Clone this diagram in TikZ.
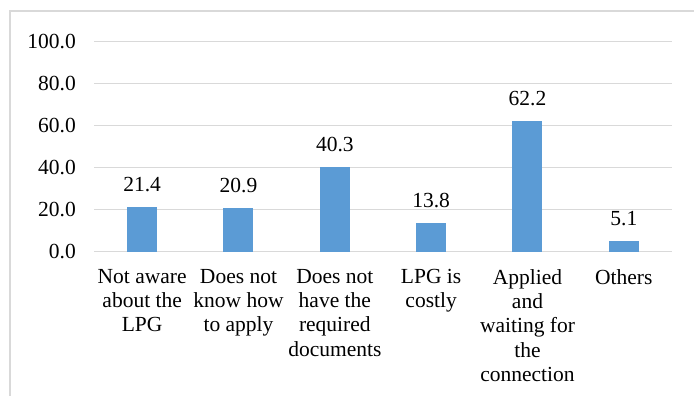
\documentclass[tikz,border=0pt]{standalone}
\usepackage{fontspec}
\setmainfont{Liberation Serif}
\definecolor{barblue}{HTML}{5B9BD5}
\definecolor{gridgray}{HTML}{D9D9D9}
\begin{document}
\begin{tikzpicture}[x=1pt,y=-1pt,
  every node/.style={font=\fontsize{21.5}{24.3}\selectfont, inner sep=0pt},
  grid/.style={draw=gridgray, line width=1.2pt},
  frameline/.style={draw=gridgray, line width=1.4pt},
  bar/.style={fill=barblue, draw=none},
  vallabel/.style={anchor=center},
  catlabel/.style={anchor=north, align=center},
  ticklabel/.style={anchor=east}]
\useasboundingbox (0,0) rectangle (694,396);
% chart frame (only top and left edges fall inside the page)
\draw[frameline] (10,400) -- (10,11) -- (700,11);
% horizontal gridlines and y-axis labels
\foreach \v/\t in {0/0.0,20/20.0,40/40.0,60/60.0,80/80.0,100/100.0}{
  \draw[grid] (94,{251.7-2.1*\v}) -- (672,{251.7-2.1*\v});
  \node[ticklabel] (tick\v) at (76,{251.7-2.1*\v}) {\t};
}
% bars, value labels and category labels
\foreach \i/\v/\c in {
  1/21.4/{Not aware\\about the\\LPG},
  2/20.9/{Does not\\know how\\to apply},
  3/40.3/{Does not\\have the\\required\\documents},
  4/13.8/{LPG is\\costly},
  5/62.2/{Applied\\and\\waiting for\\the\\connection},
  6/5.1/{Others}}{
  \pgfmathsetmacro{\cx}{94+96.33*(\i-0.5)}
  \pgfmathsetmacro{\top}{251.7-2.1*\v}
  \fill[bar] ({\cx-15},251.7) rectangle ({\cx+15},\top);
  \node[vallabel] (val\i) at (\cx,{\top-22.5}) {\v};
  \node[catlabel] (cat\i) at (\cx,269) {\c};
}
\end{tikzpicture}
\end{document}
